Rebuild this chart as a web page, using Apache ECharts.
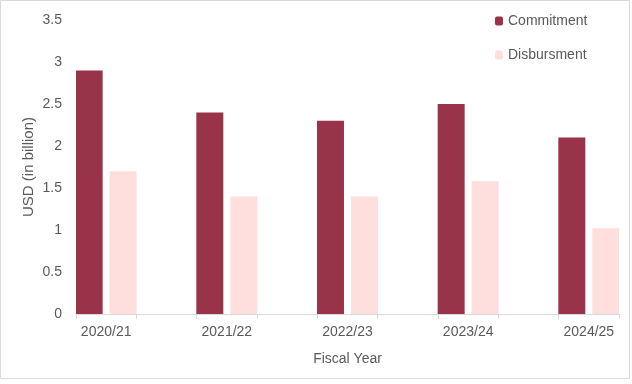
<!DOCTYPE html>
<html><head><meta charset="utf-8">
<script src="https://cdn.jsdelivr.net/npm/echarts@6/dist/echarts.min.js"></script>
<style>html,body{margin:0;padding:0;background:#fff}#c{width:632px;height:384px}</style>
</head><body><div id="c"></div>
<script>
// Blank categories separate the fiscal years (as in the source chart)
const categories = ['2020/21', '', '2021/22', '', '2022/23', '', '2023/24', '', '2024/25'];
const commitment = [2.9, null, 2.4, null, 2.3, null, 2.5, null, 2.1];
const disbursment = [1.7, null, 1.4, null, 1.4, null, 1.58, null, 1.02];
const yTicks = { min: 0, max: 3.5, interval: 0.5 };

const font = 'Liberation Sans, Arial, sans-serif';
const txt = '#595959';
const chart = echarts.init(document.getElementById('c'), null, { renderer: 'canvas' });
chart.setOption({
  animation: false,
  backgroundColor: '#fff',
  textStyle: { fontFamily: font },
  graphic: [{
    type: 'rect', shape: { x: 0.5, y: 0.5, width: 629, height: 378 },
    style: { fill: null, stroke: '#d9d9d9', lineWidth: 1 }, silent: true
  }],
  grid: { left: 76, right: 13, top: 20, bottom: 70 },
  legend: {
    orient: 'vertical', left: 490, top: 9, itemWidth: 8, itemHeight: 9, itemGap: 20,
    textStyle: { color: txt, fontSize: 14, fontFamily: font },
    data: ['Commitment', 'Disbursment']
  },
  xAxis: {
    type: 'category', data: categories,
    name: 'Fiscal Year', nameLocation: 'middle', nameGap: 38,
    nameTextStyle: { color: txt, fontSize: 14, fontFamily: font },
    axisLine: { lineStyle: { color: '#d9d9d9' } },
    axisTick: { show: true, interval: 0, length: 5, lineStyle: { color: '#d9d9d9' } },
    axisLabel: { interval: 0, color: txt, fontSize: 14, margin: 11, fontFamily: font },
    splitLine: { show: false }
  },
  yAxis: {
    type: 'value', min: yTicks.min, max: yTicks.max, interval: yTicks.interval,
    name: 'USD (in billion)', nameLocation: 'middle', nameGap: 40, nameMoveOverlap: false,
    nameTextStyle: { color: txt, fontSize: 15, fontFamily: font },
    axisLine: { show: false }, axisTick: { show: false },
    axisLabel: { color: txt, fontSize: 14, margin: 14, fontFamily: font },
    splitLine: { show: false }
  },
  series: [
    { name: 'Commitment', type: 'bar', data: commitment, barWidth: 27, barGap: '26%',
      itemStyle: { color: '#99334A' } },
    { name: 'Disbursment', type: 'bar', data: disbursment, barWidth: 27,
      itemStyle: { color: '#FFDEDE' } }
  ]
});
</script></body></html>
